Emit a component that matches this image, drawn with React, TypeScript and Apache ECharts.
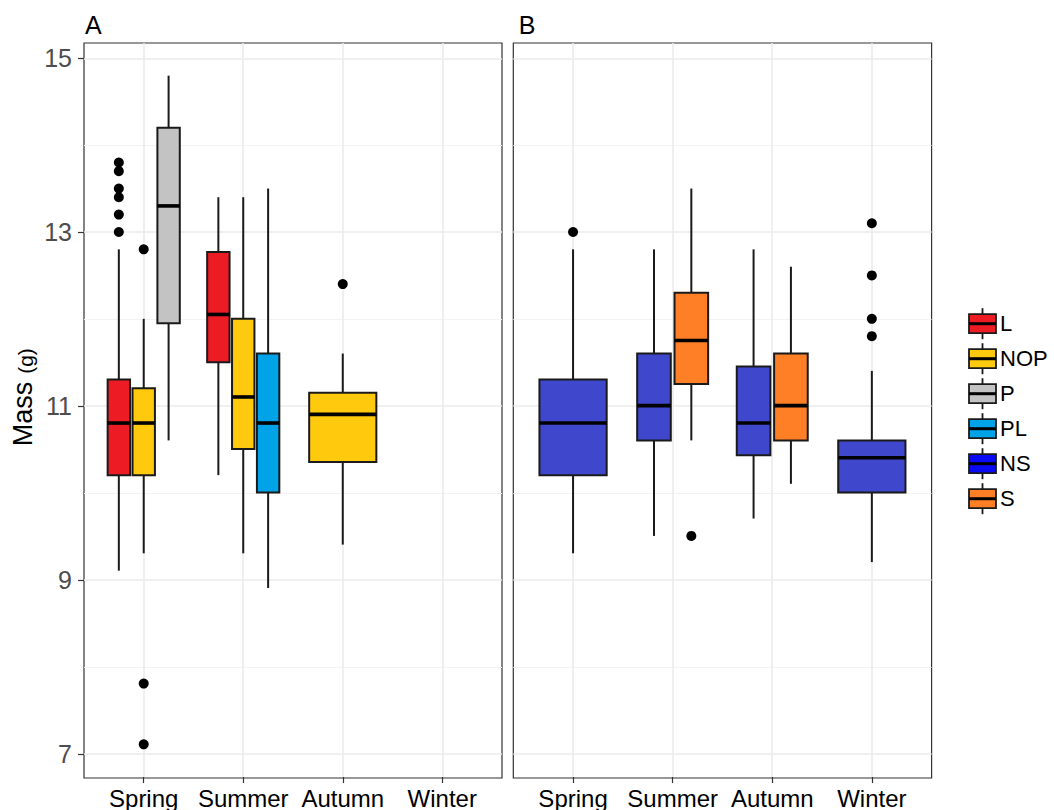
import React, { useEffect, useRef } from 'react';
import * as echarts from 'echarts';

// ---------- data ----------
const seasons = ['Spring', 'Summer', 'Autumn', 'Winter'];
const yTicks = [7, 9, 11, 13, 15];
const panelTitles = ['A', 'B'];
const yTitleMain = 'Mass';
const yTitleUnit = '(g)';
const groupNames = ['L', 'NOP', 'P', 'PL', 'NS', 'S'];
const groupColors = ['#ED1C24', '#FFC90E', '#C3C3C3', '#00A2E8', '#3F48CC', '#FF7F27'];
const legendColors = ['#ED1C24', '#FFC90E', '#C3C3C3', '#00A2E8', '#0A0AF5', '#FF7F27'];
const groupPanel = [0, 0, 0, 0, 1, 1];

// rows: [seasonIndex, lowerWhisker, q1, median, q3, upperWhisker]
const statsL = [
  [0, 9.1, 10.2, 10.8, 11.3, 12.8],
  [1, 10.2, 11.5, 12.05, 12.77, 13.4],
];
const statsNOP = [
  [0, 9.3, 10.2, 10.8, 11.2, 12.0],
  [1, 9.3, 10.5, 11.1, 12.0, 13.4],
  [2, 9.4, 10.35, 10.9, 11.15, 11.6],
];
const statsP = [[0, 10.6, 11.95, 13.3, 14.2, 14.8]];
const statsPL = [[1, 8.9, 10.0, 10.8, 11.6, 13.5]];
const statsNS = [
  [0, 9.3, 10.2, 10.8, 11.3, 12.8],
  [1, 9.5, 10.6, 11.0, 11.6, 12.8],
  [2, 9.7, 10.43, 10.8, 11.45, 12.8],
  [3, 9.2, 10.0, 10.4, 10.6, 11.4],
];
const statsS = [
  [1, 10.6, 11.25, 11.75, 12.3, 13.5],
  [2, 10.1, 10.6, 11.0, 11.6, 12.6],
];

// rows: [seasonIndex, value]
const outL = [[0, 13.8], [0, 13.7], [0, 13.5], [0, 13.4], [0, 13.2], [0, 13.0]];
const outNOP = [[0, 12.8], [0, 7.8], [0, 7.1], [2, 12.4]];
const outP: number[][] = [];
const outPL: number[][] = [];
const outNS = [[0, 13.0], [3, 13.1], [3, 12.5], [3, 12.0], [3, 11.8]];
const outS = [[1, 9.5]];

const groupStats = [statsL, statsNOP, statsP, statsPL, statsNS, statsS];
const groupOutliers = [outL, outNOP, outP, outPL, outNS, outS];

// ---------- layout ----------
const FONT = 'Liberation Sans, Arial, Helvetica, sans-serif';
const PANEL_TOP = 43;
const PANEL_BOTTOM = 778;
const Y_MIN = 6.724;
const Y_MAX = 15.176;
const PANELS_X = [
  [84, 502],
  [513.3, 931.6],
];
const X_EXPAND = 0.6;
const DODGE = 0.75;
const BOX_PAD = 0.9;
const STROKE = '#1A1A1A';
const LINE_W = 2;
const MEDIAN_W = 3.6;

const valueToPx = (v: number) =>
  PANEL_TOP + ((Y_MAX - v) / (Y_MAX - Y_MIN)) * (PANEL_BOTTOM - PANEL_TOP);

function dodgeInfo(g: number, season: number) {
  const panel = groupPanel[g];
  const present: number[] = [];
  groupStats.forEach((st, gi) => {
    if (groupPanel[gi] === panel && st.some((r) => r[0] === season)) present.push(gi);
  });
  const n = present.length;
  const i = present.indexOf(g);
  const slot = DODGE / n;
  return { offset: -DODGE / 2 + slot * (i + 0.5), width: slot * BOX_PAD };
}

function buildOption() {
  const grid: any[] = [];
  const xAxis: any[] = [];
  const yAxis: any[] = [];
  PANELS_X.forEach(([L, R], p) => {
    const unit = (R - L) / (seasons.length - 1 + 2 * X_EXPAND);
    // frame grid
    grid.push({
      left: L, top: PANEL_TOP, width: R - L, height: PANEL_BOTTOM - PANEL_TOP,
      show: true, borderColor: '#333333', borderWidth: 1.2, backgroundColor: 'transparent',
    });
    xAxis.push({ gridIndex: p * 3, type: 'value', min: 0, max: 1, show: false });
    yAxis.push({ gridIndex: p * 3, type: 'value', min: 0, max: 1, show: false });
    // y tick / gridline grid
    const tTop = valueToPx(yTicks[yTicks.length - 1]);
    const tBot = valueToPx(yTicks[0]);
    grid.push({ left: L, top: tTop, width: R - L, height: tBot - tTop });
    xAxis.push({ gridIndex: p * 3 + 1, type: 'value', min: 0, max: 1, show: false });
    yAxis.push({
      gridIndex: p * 3 + 1,
      type: 'value',
      min: yTicks[0],
      max: yTicks[yTicks.length - 1],
      interval: yTicks[1] - yTicks[0],
      axisLine: { show: false },
      axisTick: { show: p === 0, length: 6, lineStyle: { color: '#333333', width: 1.2 } },
      axisLabel: { show: p === 0, fontSize: 25, color: '#4D4D4D', margin: 12, fontFamily: FONT },
      splitLine: { show: true, lineStyle: { color: '#EBEBEB', width: 1.6 } },
      minorTick: { show: false, splitNumber: 2 },
      minorSplitLine: { show: true, lineStyle: { color: '#F3F3F3', width: 1 } },
    });
    // data grid
    grid.push({
      left: L + X_EXPAND * unit, top: PANEL_TOP,
      width: (seasons.length - 1) * unit, height: PANEL_BOTTOM - PANEL_TOP,
    });
    xAxis.push({
      gridIndex: p * 3 + 2,
      type: 'value',
      min: 1,
      max: seasons.length,
      interval: 1,
      axisLine: { show: false },
      axisTick: { show: true, length: 6, lineStyle: { color: '#333333', width: 1.2 } },
      axisLabel: {
        fontSize: 24, color: '#000000', margin: 9, fontFamily: FONT,
        formatter: (v: number) => seasons[Math.round(v) - 1] ?? '',
      },
      splitLine: { show: true, lineStyle: { color: '#EBEBEB', width: 1.6 } },
    });
    yAxis.push({ gridIndex: p * 3 + 2, type: 'value', min: Y_MIN, max: Y_MAX, show: false });
  });

  const series: any[] = [];
  groupNames.forEach((name, g) => {
    const axisIdx = groupPanel[g] * 3 + 2;
    const color = groupColors[g];
    const data = groupStats[g].map((r) => {
      const d = dodgeInfo(g, r[0]);
      return [r[0] + 1 + d.offset, r[1], r[2], r[3], r[4], r[5], d.width];
    });
    series.push({
      type: 'custom',
      name,
      xAxisIndex: axisIdx,
      yAxisIndex: axisIdx,
      z: 3,
      clip: false,
      silent: true,
      encode: { x: 0, y: [1, 2, 3, 4, 5] },
      data,
      renderItem: (params: any, api: any) => {
        const x = api.value(0);
        const w = api.value(6);
        const lo = api.coord([x, api.value(1)]);
        const q1 = api.coord([x, api.value(2)]);
        const med = api.coord([x, api.value(3)]);
        const q3 = api.coord([x, api.value(4)]);
        const hi = api.coord([x, api.value(5)]);
        const half = api.size([w, 0])[0] / 2;
        return {
          type: 'group',
          children: [
            { type: 'line', shape: { x1: lo[0], y1: lo[1], x2: q1[0], y2: q1[1] }, style: { stroke: STROKE, lineWidth: LINE_W } },
            { type: 'line', shape: { x1: q3[0], y1: q3[1], x2: hi[0], y2: hi[1] }, style: { stroke: STROKE, lineWidth: LINE_W } },
            {
              type: 'rect',
              shape: { x: q3[0] - half, y: q3[1], width: half * 2, height: q1[1] - q3[1] },
              style: { fill: color, stroke: STROKE, lineWidth: LINE_W },
            },
            {
              type: 'line',
              shape: { x1: med[0] - half, y1: med[1], x2: med[0] + half, y2: med[1] },
              style: { stroke: '#000000', lineWidth: MEDIAN_W },
            },
          ],
        };
      },
    });
    if (groupOutliers[g].length) {
      series.push({
        type: 'scatter',
        name: name + ' outliers',
        xAxisIndex: axisIdx,
        yAxisIndex: axisIdx,
        z: 4,
        clip: false,
        silent: true,
        symbol: 'circle',
        symbolSize: 10,
        itemStyle: { color: '#000000', opacity: 1 },
        data: groupOutliers[g].map((r) => [r[0] + 1 + dodgeInfo(g, r[0]).offset, r[1]]),
      });
    }
  });

  const graphic: any[] = [];
  graphic.push({
    type: 'text', x: PANELS_X[0][0] + 1, y: 24.5,
    style: { text: panelTitles[0], fill: '#000', font: `25px ${FONT}`, verticalAlign: 'middle', align: 'left' },
  });
  graphic.push({
    type: 'text', x: PANELS_X[1][0] + 5.5, y: 24.5,
    style: { text: panelTitles[1], fill: '#000', font: `25px ${FONT}`, verticalAlign: 'middle', align: 'left' },
  });
  // y title, rotated; "Mass" then the smaller "(g)" above it
  graphic.push({
    type: 'text', x: 23, y: 414, rotation: Math.PI / 2,
    style: { text: yTitleMain, fill: '#000', font: `27px ${FONT}`, align: 'center', verticalAlign: 'middle' },
  });
  graphic.push({
    type: 'text', x: 25, y: 361, rotation: Math.PI / 2,
    style: { text: yTitleUnit, fill: '#000', font: `21px ${FONT}`, align: 'center', verticalAlign: 'middle' },
  });
  // legend
  const LEG_X = 969, LEG_W = 27, LEG_H = 19, LEG_Y0 = 323.7, LEG_STEP = 35;
  groupNames.forEach((name, i) => {
    const cy = LEG_Y0 + i * LEG_STEP;
    const cx = LEG_X + LEG_W / 2;
    graphic.push({ type: 'line', shape: { x1: cx, y1: cy - 15.5, x2: cx, y2: cy + 15.5 }, style: { stroke: STROKE, lineWidth: 1.8 } });
    graphic.push({ type: 'rect', shape: { x: LEG_X, y: cy - LEG_H / 2, width: LEG_W, height: LEG_H }, style: { fill: legendColors[i], stroke: STROKE, lineWidth: 1.8 } });
    graphic.push({ type: 'line', shape: { x1: LEG_X, y1: cy, x2: LEG_X + LEG_W, y2: cy }, style: { stroke: '#000', lineWidth: 3 } });
    graphic.push({
      type: 'text', x: LEG_X + LEG_W + 4, y: cy,
      style: { text: name, fill: '#000', font: `22px ${FONT}`, verticalAlign: 'middle', align: 'left' },
    });
  });

  return {
    animation: false,
    backgroundColor: '#ffffff',
    textStyle: { fontFamily: FONT },
    grid,
    xAxis,
    yAxis,
    series,
    graphic,
  };
}

export default function App() {
  const ref = useRef<HTMLDivElement>(null);
  useEffect(() => {
    document.body.style.margin = '0';
    const chart = echarts.init(ref.current as HTMLDivElement, null, { renderer: 'svg' });
    chart.setOption(buildOption());
    return () => chart.dispose();
  }, []);
  return <div ref={ref} style={{ width: 1054, height: 810 }} />;
}
